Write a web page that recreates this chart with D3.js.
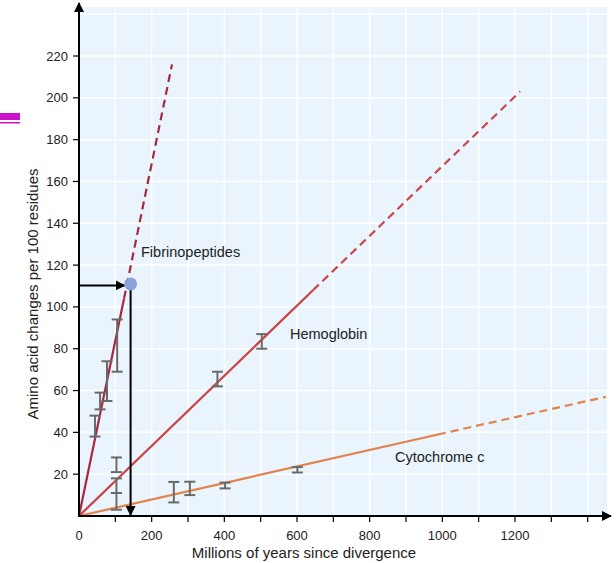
<!DOCTYPE html>
<html lang="en">
<head>
  <meta charset="UTF-8">
  <title>Amino acid changes vs divergence time</title>
  <script src="https://d3js.org/d3.v7.min.js"></script>
  <style>
    body { margin: 0; background: #fff; }
    text { font-family: "Liberation Sans", Arial, sans-serif; fill: #222; }
    .tick-label { font-size: 13px; }
    .series-label { font-size: 14.5px; }
    .axis-title { font-size: 15px; }
  </style>
</head>
<body>
  <div id="chart"></div>
  <script>
    // tick values
    const xLabelTicks = [0, 200, 400, 600, 800, 1000, 1200];
    const xMinorTicks = [100, 200, 300, 400, 500, 600, 700, 800, 900, 1000, 1100, 1200, 1300, 1400];
    const yTicks = [20, 40, 60, 80, 100, 120, 140, 160, 180, 200, 220];
    const yGrid = [20, 40, 60, 80, 100, 120, 140, 160, 180, 200, 220, 240];

    // fitted lines: [x, y] in (Myr, changes per 100 residues)
    const fibSolid = [[0, 0], [124, 104]];
    const fibDashed = [[124, 104], [256, 216]];
    const hemoSolid = [[0, 0], [644, 108]];
    const hemoDashed = [[644, 108], [1214, 203]];
    const cytoSolid = [[0, 0], [988, 39]];
    const cytoDashed = [[988, 39], [1450, 57]];

    // error bars: [x, low, high]
    const fibBars = [[44, 38, 48], [58, 51, 59], [77, 55, 74], [105, 69, 94]];
    const hemoBars = [[103, 21, 28], [103, 11, 18], [381, 62, 69], [503, 80, 87]];
    const cytoBars = [[103, 3, 11], [261, 6.5, 16.3], [305, 10, 16.4], [402, 13.2, 16], [601, 20.8, 23.4]];

    // worked example point
    const marker = [142, 111];

    const width = 616, height = 563;
    const svg = d3.select('#chart').append('svg')
      .attr('width', width)
      .attr('height', height);

    const x = d3.scaleLinear().domain([0, 1200]).range([79, 515]);
    const y = d3.scaleLinear().domain([0, 220]).range([516, 56]);

    const defs = svg.append('defs');
    defs.append('marker')
      .attr('id', 'head')
      .attr('viewBox', '0 0 10 10')
      .attr('refX', 9).attr('refY', 5)
      .attr('markerWidth', 5).attr('markerHeight', 5)
      .attr('markerUnits', 'strokeWidth')
      .attr('orient', 'auto')
      .append('path').attr('d', 'M0,0 L10,5 L0,10 Z').attr('fill', '#000');

    // plot background + grid
    svg.append('rect')
      .attr('x', 80).attr('y', 7)
      .attr('width', 527).attr('height', y(0) - 7)
      .attr('fill', '#e9f4fc');

    svg.selectAll('.vgrid').data(xMinorTicks).enter().append('line')
      .attr('x1', d => x(d)).attr('x2', d => x(d))
      .attr('y1', 7).attr('y2', y(0))
      .attr('stroke', '#fff').attr('stroke-width', 1.5);

    svg.selectAll('.hgrid').data(yGrid).enter().append('line')
      .attr('x1', 80).attr('x2', 607)
      .attr('y1', d => y(d)).attr('y2', d => y(d))
      .attr('stroke', '#fff').attr('stroke-width', 1.5);

    // magenta mark at left edge
    svg.append('rect').attr('x', 0).attr('y', 113).attr('width', 20).attr('height', 7).attr('fill', '#cc11cc');
    svg.append('rect').attr('x', 0).attr('y', 122).attr('width', 20).attr('height', 1.5).attr('fill', '#cc11cc');

    const line = d3.line().x(d => x(d[0])).y(d => y(d[1]));

    function drawLine(pts, color, dashed) {
      svg.append('path')
        .attr('d', line(pts))
        .attr('fill', 'none')
        .attr('stroke', color)
        .attr('stroke-width', 2.2)
        .attr('stroke-dasharray', dashed ? '8,5' : null);
    }

    drawLine(cytoSolid, '#e3834a', false);
    drawLine(cytoDashed, '#e3834a', true);
    drawLine(hemoSolid, '#cc4046', false);
    drawLine(hemoDashed, '#c8484e', true);
    drawLine(fibSolid, '#a8283f', false);
    drawLine(fibDashed, '#a8283f', true);

    // error bars
    const allBars = fibBars.concat(hemoBars, cytoBars);
    const bars = svg.selectAll('.ebar').data(allBars).enter().append('g')
      .attr('stroke', '#6a6a6a').attr('stroke-width', 2);
    bars.append('line')
      .attr('x1', d => x(d[0])).attr('x2', d => x(d[0]))
      .attr('y1', d => y(d[1])).attr('y2', d => y(d[2]));
    bars.append('line')
      .attr('x1', d => x(d[0]) - 5.5).attr('x2', d => x(d[0]) + 5.5)
      .attr('y1', d => y(d[1])).attr('y2', d => y(d[1]));
    bars.append('line')
      .attr('x1', d => x(d[0]) - 5.5).attr('x2', d => x(d[0]) + 5.5)
      .attr('y1', d => y(d[2])).attr('y2', d => y(d[2]));

    // axes
    svg.append('line')
      .attr('x1', x(0)).attr('x2', 611)
      .attr('y1', y(0)).attr('y2', y(0))
      .attr('stroke', '#000').attr('stroke-width', 2)
      .attr('marker-end', 'url(#head)');
    svg.append('line')
      .attr('x1', x(0)).attr('x2', x(0))
      .attr('y1', y(0) + 1).attr('y2', 3)
      .attr('stroke', '#000').attr('stroke-width', 2)
      .attr('marker-end', 'url(#head)');

    svg.selectAll('.xtick').data(xMinorTicks).enter().append('line')
      .attr('x1', d => x(d)).attr('x2', d => x(d))
      .attr('y1', y(0)).attr('y2', y(0) + 6)
      .attr('stroke', '#000').attr('stroke-width', 1.2);
    svg.selectAll('.xlab').data(xLabelTicks).enter().append('text')
      .attr('class', 'tick-label')
      .attr('x', d => x(d)).attr('y', 540)
      .attr('text-anchor', 'middle')
      .text(d => d);

    svg.selectAll('.ytick').data(yTicks).enter().append('line')
      .attr('x1', x(0) - 6).attr('x2', x(0))
      .attr('y1', d => y(d)).attr('y2', d => y(d))
      .attr('stroke', '#000').attr('stroke-width', 1.2);
    svg.selectAll('.ylab').data(yTicks).enter().append('text')
      .attr('class', 'tick-label')
      .attr('x', 68).attr('y', d => y(d) + 4.5)
      .attr('text-anchor', 'end')
      .text(d => d);

    // worked example arrows
    svg.append('line')
      .attr('x1', x(0)).attr('x2', x(marker[0]) - 6)
      .attr('y1', y(marker[1]) + 1.5).attr('y2', y(marker[1]) + 1.5)
      .attr('stroke', '#000').attr('stroke-width', 2)
      .attr('marker-end', 'url(#head)');
    svg.append('line')
      .attr('x1', x(marker[0])).attr('x2', x(marker[0]))
      .attr('y1', y(marker[1])).attr('y2', y(0) - 1)
      .attr('stroke', '#000').attr('stroke-width', 2)
      .attr('marker-end', 'url(#head)');
    svg.append('circle')
      .attr('cx', x(marker[0])).attr('cy', y(marker[1]))
      .attr('r', 6.5)
      .attr('fill', '#8aa2dc');

    // series labels
    svg.append('text').attr('class', 'series-label').attr('x', 141).attr('y', 257).text('Fibrinopeptides');
    svg.append('text').attr('class', 'series-label').attr('x', 290).attr('y', 339).text('Hemoglobin');
    svg.append('text').attr('class', 'series-label').attr('x', 395).attr('y', 462).text('Cytochrome c');

    // axis titles
    svg.append('text').attr('class', 'axis-title')
      .attr('x', 304).attr('y', 558)
      .attr('text-anchor', 'middle')
      .text('Millions of years since divergence');
    svg.append('text').attr('class', 'axis-title')
      .attr('transform', 'translate(38,294) rotate(-90)')
      .attr('text-anchor', 'middle')
      .text('Amino acid changes per 100 residues');
  </script>
</body>
</html>
